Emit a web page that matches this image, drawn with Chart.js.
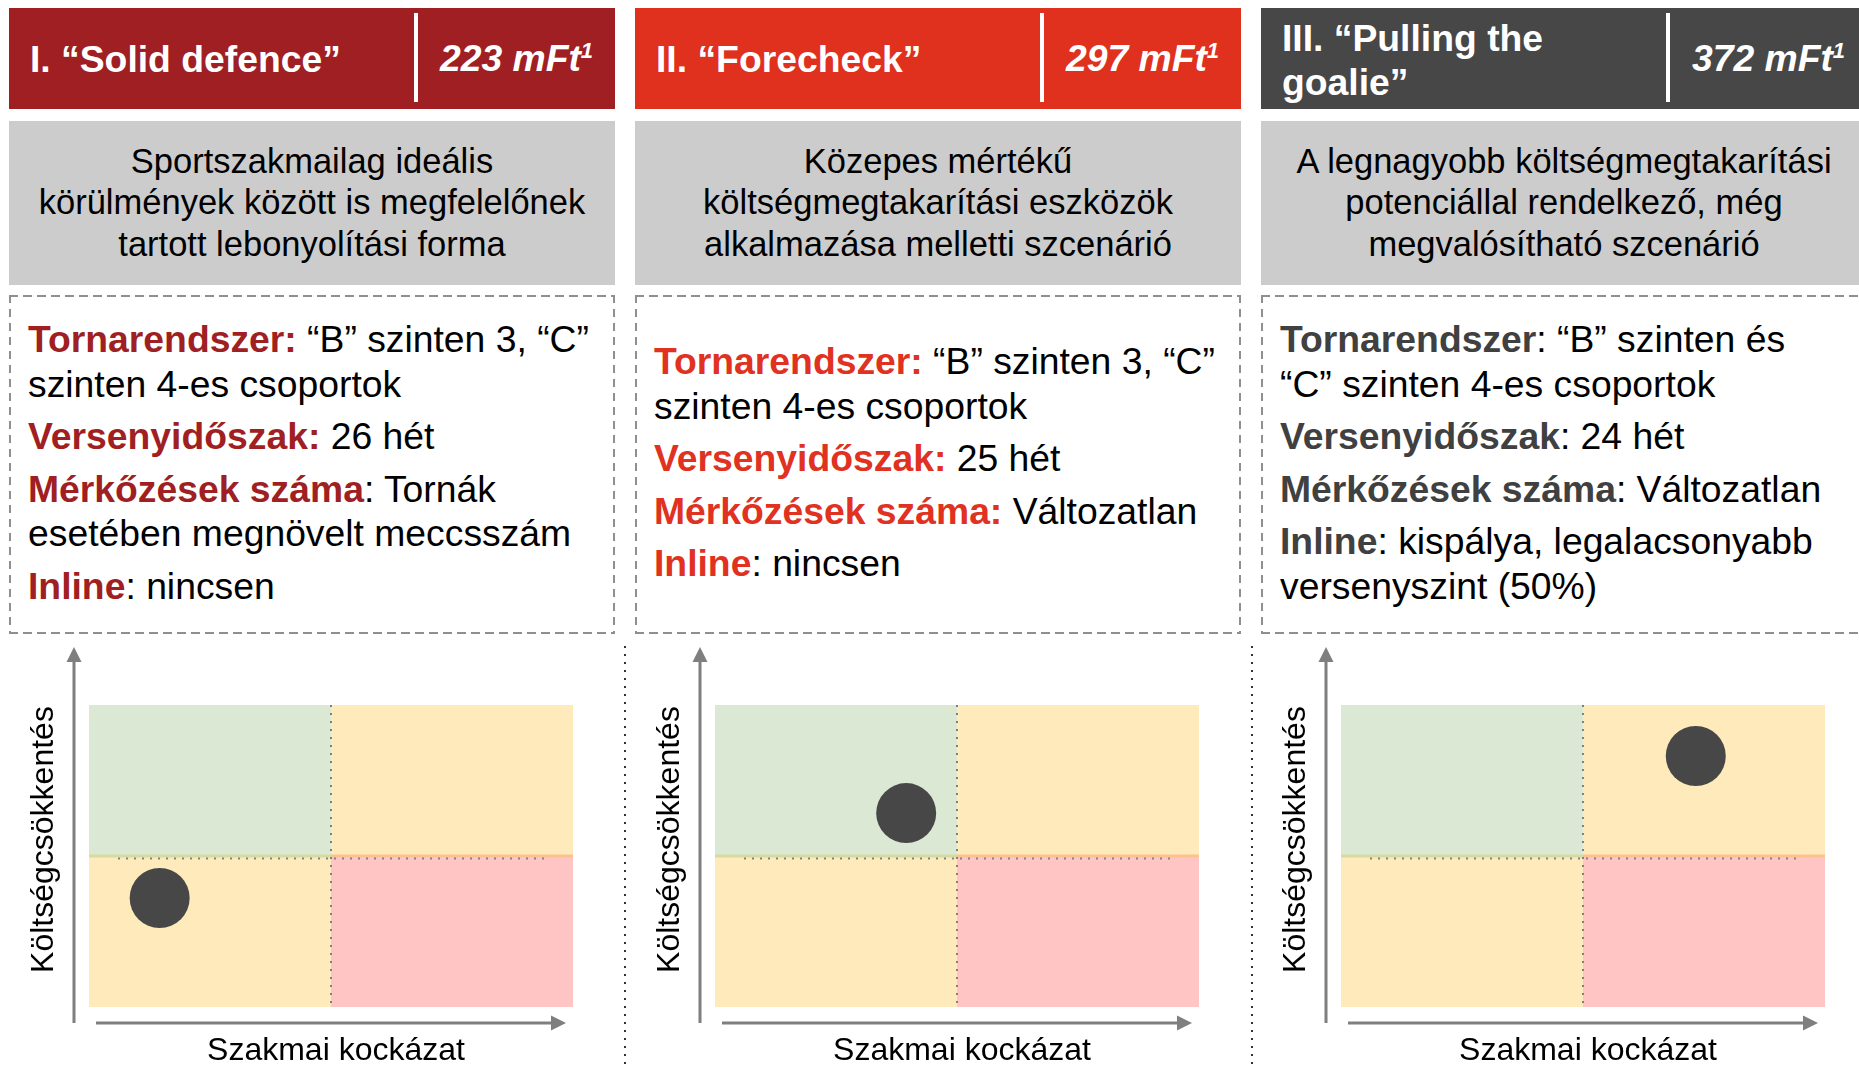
<!DOCTYPE html>
<html lang="hu">
<head>
<meta charset="utf-8">
<title>Szcenáriók</title>
<script src="https://cdn.jsdelivr.net/npm/chart.js@4.4.1/dist/chart.umd.min.js"></script>
<style>
  html, body { margin: 0; padding: 0; background: #fff; }
  body {
    width: 1859px; height: 1066px; overflow: hidden; position: relative;
    font-family: "Liberation Sans", Arial, sans-serif; color: #000;
  }
  .col { position: absolute; top: 0; width: 606px; height: 1066px; }
  .hdr { position: absolute; top: 8px; left: 0; width: 606px; height: 101px; color: #fff; }
  .hdr .ttl {
    position: absolute; left: 21px; top: 0; width: 380px; height: 101px;
    display: flex; align-items: center;
    font-weight: bold; font-size: 37.3px; line-height: 44px;
  }
  .hdr .ttl.two { padding-top: 3px; box-sizing: border-box; }
  .hdr .sep { position: absolute; left: 405px; top: 5px; width: 4px; height: 89px; background: #fff; }
  .hdr .cost {
    position: absolute; left: 409px; top: 0; width: 197px; height: 101px;
    display: flex; align-items: center; justify-content: center;
    font-weight: bold; font-style: italic; font-size: 37.3px; white-space: nowrap;
  }
  .hdr .cost sup { font-size: 22px; vertical-align: 13px; line-height: 0; }
  .sub {
    position: absolute; top: 121px; left: 0; width: 606px; height: 164px; background: #cccccc;
    display: flex; align-items: center; justify-content: center; text-align: center;
    font-size: 34.5px; line-height: 41.5px; white-space: nowrap;
  }
  .box {
    position: absolute; top: 295px; left: 0; width: 606px; height: 339px; box-sizing: border-box;
    padding: 0 0 4px 19px; display: flex; flex-direction: column; justify-content: center; gap: 8px;
    font-size: 37.3px; line-height: 44.5px; white-space: nowrap;
    background:
      repeating-linear-gradient(90deg, #8f8f8f 0 9px, transparent 9px 14px) left top / 100% 2px no-repeat,
      repeating-linear-gradient(90deg, #8f8f8f 0 9px, transparent 9px 14px) left bottom / 100% 2px no-repeat,
      repeating-linear-gradient(180deg, #8f8f8f 0 8px, transparent 8px 14px) left top / 2px 100% no-repeat,
      repeating-linear-gradient(180deg, #8f8f8f 0 8px, transparent 8px 14px) right top / 2px 100% no-repeat;
  }
  .box p { margin: 0; }
  .sepv {
    position: absolute; top: 646px; width: 2px; height: 420px;
    background: repeating-linear-gradient(180deg, #333 0 2px, transparent 2px 8px);
  }
  canvas { position: absolute; left: 0; top: 640px; }
</style>
</head>
<body>
<div class="sepv" style="left:624px"></div>
<div class="sepv" style="left:1251px"></div>

<script>
// ---- data ----
const scenarioTitles = ['I. “Solid defence”', 'II. “Forecheck”', 'III. “Pulling the goalie”'];
const scenarioCosts  = [223, 297, 372];
const costUnit       = 'mFt';
const costNote       = '1';

const scenarioDescriptions = [
  ['Sportszakmailag ideális', 'körülmények között is megfelelőnek', 'tartott lebonyolítási forma'],
  ['Közepes mértékű', 'költségmegtakarítási eszközök', 'alkalmazása melletti szcenárió'],
  ['A legnagyobb költségmegtakarítási', 'potenciállal rendelkező, még', 'megvalósítható szcenárió'],
];

// key, rest of the text (one entry per line)
const scenarioDetails = [
  [
    ['Tornarendszer:', ['\u00a0“B” szinten 3, “C”', 'szinten 4-es csoportok']],
    ['Versenyidőszak:', ['\u00a026 hét']],
    ['Mérkőzések száma', [': Tornák', 'esetében megnövelt meccsszám']],
    ['Inline', [': nincsen']],
  ],
  [
    ['Tornarendszer:', ['\u00a0“B” szinten 3, “C”', 'szinten 4-es csoportok']],
    ['Versenyidőszak:', ['\u00a025 hét']],
    ['Mérkőzések száma:', ['\u00a0Változatlan']],
    ['Inline', [': nincsen']],
  ],
  [
    ['Tornarendszer', [': “B” szinten és', '“C” szinten 4-es csoportok']],
    ['Versenyidőszak', [': 24 hét']],
    ['Mérkőzések száma', [': Változatlan']],
    ['Inline', [': kispálya, legalacsonyabb', 'versenyszint (50%)']],
  ],
];

// position of each scenario: x = Szakmai kockázat, y = Költségcsökkentés (0–10)
const riskScores   = [1.46, 3.95, 7.33];
const savingScores = [3.61, 6.42, 8.31];

const xAxisTitle = 'Szakmai kockázat';
const yAxisTitle = 'Költségcsökkentés';
const axisMin = 0, axisMid = 5, axisMax = 10;

// ---- styles ----
const headerColors = ['#a01f23', '#e0301e', '#474747'];
const keyColors    = ['#a01f22', '#e03121', '#404040'];
const columnLeft   = [9, 635, 1261];
const quadColors   = { good: '#dae8d4', mid: '#ffeabb', bad: '#ffc5c5', seamL: '#d6dba2', seamR: '#fdc18d' };

const quadrantPlugin = {
  id: 'quadrants',
  beforeDatasetsDraw(chart) {
    const { ctx, scales: { x, y } } = chart;
    const x0 = x.getPixelForValue(axisMin), xm = x.getPixelForValue(axisMid), x1 = x.getPixelForValue(axisMax);
    const y0 = y.getPixelForValue(axisMin), ym = y.getPixelForValue(axisMid), y1 = y.getPixelForValue(axisMax);
    ctx.save();
    ctx.fillStyle = quadColors.good; ctx.fillRect(x0, y1, xm - x0, ym - y1);
    ctx.fillStyle = quadColors.mid;  ctx.fillRect(xm, y1, x1 - xm, ym - y1);
    ctx.fillRect(x0, ym, xm - x0, y0 - ym);
    ctx.fillStyle = quadColors.bad;  ctx.fillRect(xm, ym, x1 - xm, y0 - ym);
    ctx.fillStyle = quadColors.seamL; ctx.fillRect(x0, ym - 1.5, xm - x0, 3);
    ctx.fillStyle = quadColors.seamR; ctx.fillRect(xm, ym - 1.5, x1 - xm, 3);

    ctx.strokeStyle = '#808080';
    ctx.lineWidth = 2;
    ctx.setLineDash([2, 6]);
    ctx.beginPath(); ctx.moveTo(xm, y1); ctx.lineTo(xm, y0); ctx.stroke();
    ctx.beginPath();
    ctx.moveTo(x.getPixelForValue(0.6), ym + 2.5);
    ctx.lineTo(x.getPixelForValue(9.4), ym + 2.5);
    ctx.stroke();
    ctx.restore();
  }
};

const arrowAxesPlugin = {
  id: 'arrowAxes',
  afterDraw(chart) {
    const { ctx, chartArea: a } = chart;
    const ax = a.left - 15, ay = a.bottom + 16;
    ctx.save();
    ctx.strokeStyle = '#7f7f7f';
    ctx.fillStyle = '#7f7f7f';
    ctx.lineWidth = 3;
    // y arrow
    ctx.beginPath(); ctx.moveTo(ax, ay); ctx.lineTo(ax, a.top - 44); ctx.stroke();
    ctx.beginPath();
    ctx.moveTo(ax, a.top - 58); ctx.lineTo(ax - 7.5, a.top - 43); ctx.lineTo(ax + 7.5, a.top - 43);
    ctx.closePath(); ctx.fill();
    // x arrow
    const xs = a.left + 7, xe = a.right - 7;
    ctx.beginPath(); ctx.moveTo(xs, ay); ctx.lineTo(xe - 14, ay); ctx.stroke();
    ctx.beginPath();
    ctx.moveTo(xe, ay); ctx.lineTo(xe - 15, ay - 7.5); ctx.lineTo(xe - 15, ay + 7.5);
    ctx.closePath(); ctx.fill();
    // titles
    ctx.fillStyle = '#000';
    ctx.font = '32px "Liberation Sans", Arial, sans-serif';
    ctx.textAlign = 'center';
    ctx.textBaseline = 'alphabetic';
    ctx.fillText(xAxisTitle, (a.left + a.right) / 2 + 5, a.bottom + 53);
    ctx.translate(a.left - 36.5, a.top + 134.5);
    ctx.rotate(-Math.PI / 2);
    ctx.fillText(yAxisTitle, 0, 0);
    ctx.restore();
  }
};

function buildColumn(i) {
  const col = document.createElement('div');
  col.className = 'col';
  col.style.left = columnLeft[i] + 'px';

  const details = scenarioDetails[i].map(([key, lines]) =>
    `<p><b style="color:${keyColors[i]}">${key}</b>${lines.join('<br>')}</p>`
  ).join('');
  const twoLine = scenarioTitles[i].length > 20 ? ' two' : '';

  col.innerHTML = `
    <div class="hdr" style="background:${headerColors[i]}">
      <div class="ttl${twoLine}"><span>${scenarioTitles[i]}</span></div>
      <div class="sep"></div>
      <div class="cost"><span>${scenarioCosts[i]} ${costUnit}<sup>${costNote}</sup></span></div>
    </div>
    <div class="sub"><div>${scenarioDescriptions[i].join('<br>')}</div></div>
    <div class="box">${details}</div>
    <canvas width="606" height="426"></canvas>`;
  document.body.appendChild(col);

  new Chart(col.querySelector('canvas'), {
    type: 'scatter',
    data: {
      datasets: [{
        data: [{ x: riskScores[i], y: savingScores[i] }],
        backgroundColor: '#474747',
        borderWidth: 0,
        pointRadius: 30,
        pointHoverRadius: 30,
        clip: false,
      }],
    },
    options: {
      responsive: false,
      animation: false,
      events: [],
      layout: { padding: { left: 80, right: 42, top: 65, bottom: 59 } },
      scales: {
        x: { type: 'linear', min: axisMin, max: axisMax, display: false },
        y: { type: 'linear', min: axisMin, max: axisMax, display: false },
      },
      plugins: { legend: { display: false }, tooltip: { enabled: false } },
    },
    plugins: [quadrantPlugin, arrowAxesPlugin],
  });
}

scenarioTitles.forEach((_, i) => buildColumn(i));
</script>
</body>
</html>
